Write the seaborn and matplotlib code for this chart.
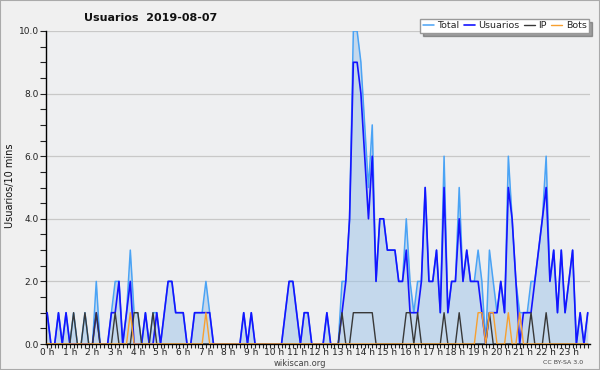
import numpy as np
import pandas as pd
import matplotlib
matplotlib.use("Agg")
import matplotlib.pyplot as plt
import seaborn as sns
from matplotlib.patches import Rectangle

# one row per hour, 6 slots of 10 minutes
total = [
    1, 0, 0, 1, 0, 1,
    0, 1, 0, 0, 1, 0,
    0, 2, 0, 0, 0, 1,
    2, 2, 0, 1, 3, 1,
    1, 0, 1, 0, 1, 1,
    0, 1, 2, 2, 1, 1,
    1, 0, 0, 1, 1, 1,
    2, 1, 0, 0, 0, 0,
    0, 0, 0, 0, 1, 0,
    1, 0, 0, 0, 0, 0,
    0, 0, 0, 1, 2, 2,
    1, 0, 1, 1, 0, 0,
    0, 0, 1, 0, 0, 0,
    2, 2, 4, 10, 10, 9,
    7, 5, 7, 2, 4, 4,
    3, 3, 3, 2, 2, 4,
    2, 1, 2, 2, 5, 2,
    2, 3, 1, 6, 1, 2,
    2, 5, 2, 3, 2, 2,
    3, 2, 0, 3, 2, 1,
    2, 1, 6, 4, 2, 1,
    1, 1, 2, 2, 3, 4,
    6, 2, 3, 1, 3, 1,
    2, 3, 0, 1, 0, 1,
]
usuarios = [
    1, 0, 0, 1, 0, 1,
    0, 0, 0, 0, 0, 0,
    0, 1, 0, 0, 0, 1,
    1, 2, 0, 1, 2, 0,
    0, 0, 1, 0, 0, 1,
    0, 1, 2, 2, 1, 1,
    1, 0, 0, 1, 1, 1,
    1, 1, 0, 0, 0, 0,
    0, 0, 0, 0, 1, 0,
    1, 0, 0, 0, 0, 0,
    0, 0, 0, 1, 2, 2,
    1, 0, 1, 1, 0, 0,
    0, 0, 1, 0, 0, 0,
    1, 2, 4, 9, 9, 8,
    6, 4, 6, 2, 4, 4,
    3, 3, 3, 2, 2, 3,
    1, 1, 1, 2, 5, 2,
    2, 3, 1, 5, 1, 2,
    2, 4, 2, 3, 2, 2,
    2, 1, 0, 1, 1, 1,
    2, 1, 5, 4, 2, 0,
    1, 1, 1, 2, 3, 4,
    5, 2, 3, 1, 3, 1,
    2, 3, 0, 1, 0, 1,
]
ip = [
    0, 0, 0, 0, 0, 0,
    0, 1, 0, 0, 1, 0,
    0, 1, 0, 0, 0, 0,
    1, 0, 0, 0, 0, 1,
    1, 0, 0, 0, 1, 0,
    0, 0, 0, 0, 0, 0,
    0, 0, 0, 0, 0, 0,
    0, 0, 0, 0, 0, 0,
    0, 0, 0, 0, 0, 0,
    0, 0, 0, 0, 0, 0,
    0, 0, 0, 0, 0, 0,
    0, 0, 0, 0, 0, 0,
    0, 0, 0, 0, 0, 0,
    1, 0, 0, 1, 1, 1,
    1, 1, 1, 0, 0, 0,
    0, 0, 0, 0, 0, 1,
    1, 0, 1, 0, 0, 0,
    0, 0, 0, 1, 0, 0,
    0, 1, 0, 0, 0, 0,
    0, 0, 0, 1, 0, 0,
    0, 0, 0, 0, 0, 0,
    0, 0, 1, 0, 0, 0,
    1, 0, 0, 0, 0, 0,
    0, 0, 0, 0, 0, 0,
]
bots = [
    0, 0, 0, 0, 0, 0,
    0, 0, 0, 0, 0, 0,
    0, 0, 0, 0, 0, 0,
    0, 0, 0, 0, 1, 0,
    0, 0, 0, 0, 0, 0,
    0, 0, 0, 0, 0, 0,
    0, 0, 0, 0, 0, 0,
    1, 0, 0, 0, 0, 0,
    0, 0, 0, 0, 0, 0,
    0, 0, 0, 0, 0, 0,
    0, 0, 0, 0, 0, 0,
    0, 0, 0, 0, 0, 0,
    0, 0, 0, 0, 0, 0,
    0, 0, 0, 0, 0, 0,
    0, 0, 0, 0, 0, 0,
    0, 0, 0, 0, 0, 0,
    0, 0, 0, 0, 0, 0,
    0, 0, 0, 0, 0, 0,
    0, 0, 0, 0, 0, 0,
    1, 1, 0, 1, 1, 0,
    0, 0, 1, 0, 0, 1,
    0, 0, 0, 0, 0, 0,
    0, 0, 0, 0, 0, 0,
    0, 0, 0, 0, 0, 0,
]
hour_labels = [f"{h} h" for h in range(24)]
y_ticks = [0, 2, 4, 6, 8, 10]

df = pd.DataFrame({
    "slot": np.arange(len(total)),
    "Total": total,
    "Usuarios": usuarios,
    "IP": ip,
    "Bots": bots,
})

sns.set_style("ticks")
plt.rcParams["font.family"] = ["DejaVu Sans"]

bg = "#f0f0f0"
fig = plt.figure(figsize=(6, 3.7), dpi=100, facecolor=bg)
ax = fig.add_axes([46 / 600, 1 - 344 / 370, 544 / 600, 313 / 370])
ax.set_facecolor("#eeeff1")

ax.fill_between(df["slot"], df["Total"], color="#9cc3e8", alpha=0.5, lw=0, zorder=1)
sns.lineplot(data=df, x="slot", y="Total", color="#4aa3f5", lw=1.1, ax=ax, label="Total", zorder=2)
sns.lineplot(data=df, x="slot", y="Usuarios", color="#1414ff", lw=1.2, ax=ax, label="Usuarios", zorder=3)
sns.lineplot(data=df, x="slot", y="IP", color="#383838", lw=1.0, ax=ax, label="IP", zorder=4)
sns.lineplot(data=df, x="slot", y="Bots", color="#f7a030", lw=1.0, ax=ax, label="Bots", zorder=5)

handles, labels = ax.get_legend_handles_labels()
if ax.get_legend() is not None:
    ax.get_legend().remove()

ax.set_xlim(-0.3, 143.6)
ax.set_ylim(0, 10)
ax.set_xlabel("")
ax.set_ylabel("")
ax.set_xticks(np.arange(0, 144, 6))
ax.set_xticklabels(hour_labels)
ax.set_xticks(np.arange(0, 144), minor=True)
ax.set_yticks(y_ticks)
ax.set_yticklabels([f"{v:.1f}" for v in y_ticks])
ax.set_yticks(np.arange(0, 10.01, 0.5), minor=True)
ax.tick_params(axis="x", which="both", length=3, width=0.8, direction="out",
               labelsize=6.5, pad=0, colors="#222222")
ax.tick_params(axis="y", which="both", length=4, width=0.8, direction="out",
               labelsize=6.5, pad=1, colors="#222222")
ax.yaxis.grid(True, which="major", color="#c8c8c8", lw=0.9)
ax.set_axisbelow(True)
for side in ["top", "right"]:
    ax.spines[side].set_visible(False)
for side in ["left", "bottom"]:
    ax.spines[side].set_color("black")
    ax.spines[side].set_linewidth(1.0)

fig.text(151 / 600, 1 - 18 / 370, "Usuarios  2019-08-07", ha="center", va="center",
         fontsize=8, fontweight="bold", color="#111111")
fig.text(10 / 600, 1 - 186 / 370, "Usuarios/10 mins", rotation=90, ha="center", va="center",
         fontsize=7, color="#111111")
fig.text(300 / 600, 1 - 363 / 370, "wikiscan.org", ha="center", va="center",
         fontsize=6, color="#444444")
fig.text(563 / 600, 1 - 363 / 370, "CC BY-SA 3.0", ha="center", va="center",
         fontsize=4.5, color="#444444")

leg = fig.legend(handles, labels, loc="upper right", bbox_to_anchor=(589 / 600, 1 - 19 / 370),
                 ncol=4, fontsize=6.8, frameon=True, fancybox=False, shadow=True,
                 handlelength=1.2, handletextpad=0.35, columnspacing=0.45,
                 borderpad=0.25, borderaxespad=0)
leg.get_frame().set_edgecolor("#999999")
leg.get_frame().set_facecolor("white")
leg.get_frame().set_alpha(1)

fig.add_artist(Rectangle((0, 0), 1, 1, transform=fig.transFigure, fill=False,
                         edgecolor="#aaaaaa", lw=1.5))

fig.savefig("out.png", dpi=100, facecolor=fig.get_facecolor())
